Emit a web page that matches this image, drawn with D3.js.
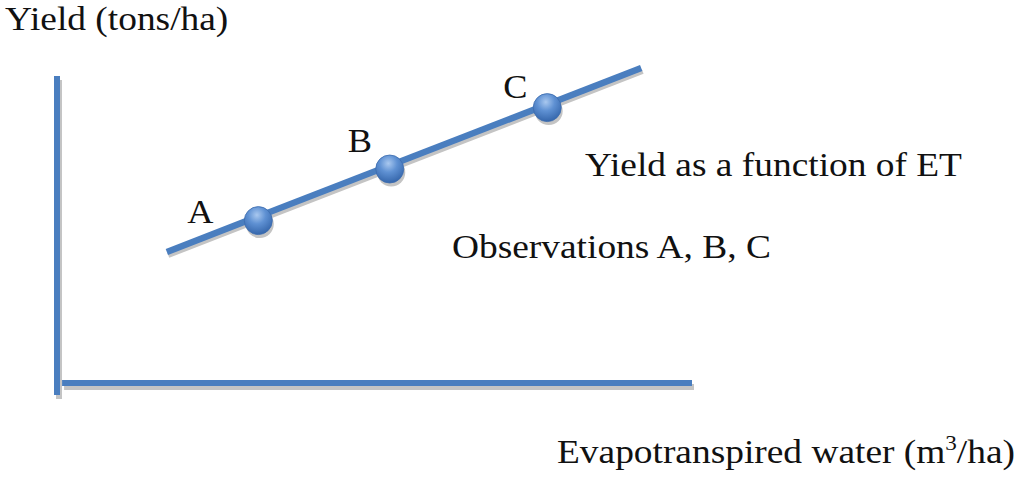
<!DOCTYPE html>
<html>
<head>
<meta charset="utf-8">
<script src="https://cdn.jsdelivr.net/npm/d3@7"></script>
<style>
  html, body { margin: 0; padding: 0; background: #fff; }
  svg { display: block; }
  text { font-family: "Liberation Serif", "Times New Roman", serif; fill: #111; }
</style>
</head>
<body>
<svg id="chart" width="1024" height="477"></svg>
<script>
// ---- data (arbitrary units) ----
const obsLabels = ["A", "B", "C"];
const obsX = [31.7, 52.4, 77.2];
const obsY = [52.9, 69.7, 89.7];
const fitX = [17.3, 92.0];
const fitY = [42.7, 102.6];
const xDomain = [0, 100];
const yDomain = [0, 100];
const yAxisTitle = "Yield (tons/ha)";
const xAxisTitle = "Evapotranspired water (m";
const legendLine = "Yield as a function of ET";
const legendObs = "Observations A, B, C";

// ---- styling / layout ----
const blue = "#4a7ebf";
const shadow = "#c4c4c4";
const stretch = 1.1;              // the reference's type is slightly wide
const labelOffsets = [[-71, 2], [-42, -17], [-44, -10]];

const svg = d3.select("#chart");
const x = d3.scaleLinear().domain(xDomain).range([57, 692]);
const y = d3.scaleLinear().domain(yDomain).range([383, 76]);

function wideText(px, py, size, str) {
  const g = svg.append("g").attr("transform", `translate(${px},${py}) scale(${stretch},1)`);
  const t = g.append("text").attr("x", 0).attr("y", 0).attr("font-size", size);
  if (str !== undefined) t.text(str);
  return t;
}

const defs = svg.append("defs");
const grad = defs.append("radialGradient").attr("id", "ball")
  .attr("cx", "45%").attr("cy", "30%").attr("r", "70%");
grad.append("stop").attr("offset", "0%").attr("stop-color", "#a9c8ef");
grad.append("stop").attr("offset", "45%").attr("stop-color", "#5f91d3");
grad.append("stop").attr("offset", "100%").attr("stop-color", "#3566ab");

// axes (bare axis lines with shadow)
const axes = [
  {x1: x(0), y1: y(100), x2: x(0), y2: y(-3.9)},
  {x1: x(0.8), y1: y(0), x2: x(100), y2: y(0)}
];
axes.forEach(a => {
  svg.append("line").attr("x1", a.x1 + 2).attr("y1", a.y1 + 4).attr("x2", a.x2 + 2).attr("y2", a.y2 + 4)
    .attr("stroke", shadow).attr("stroke-width", 6);
});
axes.forEach(a => {
  svg.append("line").attr("x1", a.x1).attr("y1", a.y1).attr("x2", a.x2).attr("y2", a.y2)
    .attr("stroke", blue).attr("stroke-width", 6);
});

// fitted line
const fit = fitX.map((v, i) => [v, fitY[i]]);
const lineGen = d3.line().x(d => x(d[0])).y(d => y(d[1]));
svg.append("path").datum(fit).attr("d", lineGen)
  .attr("transform", "translate(1.5,3.5)")
  .attr("stroke", shadow).attr("stroke-width", 5).attr("fill", "none");
svg.append("path").datum(fit).attr("d", lineGen)
  .attr("stroke", blue).attr("stroke-width", 6.5).attr("fill", "none");

// observations
const obs = obsLabels.map((l, i) => ({label: l, x: obsX[i], y: obsY[i], off: labelOffsets[i]}));
svg.selectAll("circle.shadow").data(obs).enter().append("circle")
  .attr("class", "shadow")
  .attr("cx", d => x(d.x) + 1.5).attr("cy", d => y(d.y) + 3.5).attr("r", 14)
  .attr("fill", shadow);
svg.selectAll("circle.obs").data(obs).enter().append("circle")
  .attr("class", "obs")
  .attr("cx", d => x(d.x)).attr("cy", d => y(d.y)).attr("r", 14)
  .attr("fill", "url(#ball)").attr("stroke", "#3c6cae").attr("stroke-width", 0.8);
obs.forEach(d => wideText(x(d.x) + d.off[0], y(d.y) + d.off[1], 33, d.label));

// texts
wideText(5, 30, 34, yAxisTitle);
wideText(585, 176, 34, legendLine);
wideText(452, 258, 34, legendObs);
const xt = wideText(557, 463, 34);
xt.append("tspan").text(xAxisTitle);
xt.append("tspan").attr("font-size", 21).attr("dy", -13).text("3");
xt.append("tspan").attr("dy", 13).text("/ha)");
</script>
</body>
</html>
